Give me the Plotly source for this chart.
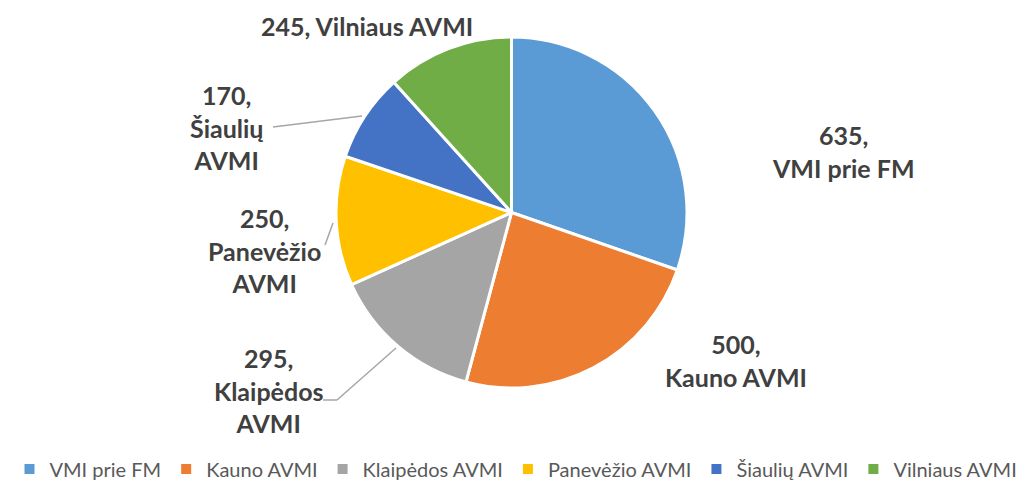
import plotly.graph_objects as go

# Data
categories = ["VMI prie FM", "Kauno AVMI", "Klaipėdos AVMI", "Panevėžio AVMI", "Šiaulių AVMI", "Vilniaus AVMI"]
values = [635, 500, 295, 250, 170, 245]
label_names = ["VMI prie FM", "Kauno AVMI", "Klaipėdos<br>AVMI", "Panevėžio<br>AVMI", "Šiaulių<br>AVMI", "Vilniaus AVMI"]
label_sep = ["<br>", "<br>", "<br>", "<br>", "<br>", " "]

# Styles / layout (positions given in page pixels; the page body has an 8px margin)
colors = ["#5B9BD5", "#ED7D31", "#A5A5A5", "#FFC000", "#4472C4", "#70AD47"]
OFF = 8
W, H = 1016, 475
label_pos_px = [(843, 151), (736, 360), (268, 390), (264, 250), (226, 127), (367, 26)]
leader_px = [
    [],
    [],
    [(323, 400), (337, 400), (396, 348)],
    [(325, 245), (333, 223)],
    [(273, 127), (362, 116)],
    [],
]

def px(x, y):
    return (x - OFF) / W, 1 - (y - OFF) / H

pie_cx, pie_top, pie_bottom = 511.5, 37, 388
pie_r = (pie_bottom - pie_top) / 2
fig = go.Figure(go.Pie(
    labels=categories,
    values=values,
    sort=False,
    direction="clockwise",
    rotation=0,
    marker=dict(colors=colors, line=dict(color="white", width=3)),
    textinfo="none",
    hoverinfo="label+value",
    domain=dict(x=[px(pie_cx - pie_r, 0)[0], px(pie_cx + pie_r, 0)[0]],
                y=[px(0, pie_bottom)[1], px(0, pie_top)[1]]),
))

annotations = []
for v, name, sep, (lx, ly) in zip(values, label_names, label_sep, label_pos_px):
    x, y = px(lx, ly)
    annotations.append(dict(
        x=x, y=y, xref="paper", yref="paper",
        text=f"{v},{sep}{name}", showarrow=False,
        xanchor="center", yanchor="middle", align="center",
        font=dict(family="Lato", size=25, color="#404040", weight="bold"),
    ))

shapes = []
for pts in leader_px:
    for (x0, y0), (x1, y1) in zip(pts[:-1], pts[1:]):
        a0, b0 = px(x0, y0)
        a1, b1 = px(x1, y1)
        shapes.append(dict(type="line", xref="paper", yref="paper",
                           x0=a0, y0=b0, x1=a1, y1=b1,
                           line=dict(color="#A6A6A6", width=1.5)))

fig.update_layout(
    width=W, height=H,
    margin=dict(l=0, r=0, t=0, b=0, autoexpand=False),
    paper_bgcolor="white",
    plot_bgcolor="white",
    annotations=annotations,
    shapes=shapes,
    showlegend=True,
    legend=dict(orientation="h", x=0.5, xanchor="center", y=px(0, 469)[1], yanchor="middle",
                font=dict(family="Lato", size=20, color="#595959"),
                itemsizing="constant", traceorder="normal"),
)

fig.write_html("out.html")
